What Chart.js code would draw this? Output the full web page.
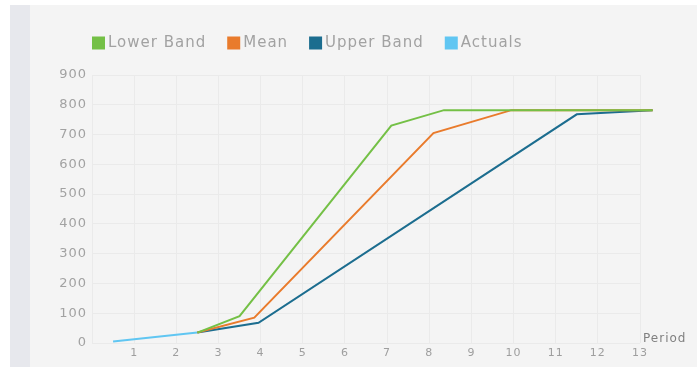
<!DOCTYPE html>
<html>
<head>
<meta charset="utf-8">
<script src="https://cdn.jsdelivr.net/npm/chart.js@4/dist/chart.umd.min.js"></script>
<style>
  html, body { margin: 0; padding: 0; background: #ffffff; }
  #wrap { position: relative; width: 697px; height: 367px; overflow: hidden; }
  #panel { position: absolute; left: 10px; top: 5px; right: 0; bottom: 0; background: #f4f4f4; }
  #strip { position: absolute; left: 10px; top: 5px; width: 20px; bottom: 0; background: #e7e8ed; }
  canvas { position: absolute; left: 0; top: 0; }
</style>
</head>
<body>
<div id="wrap">
  <div id="panel"></div>
  <div id="strip"></div>
  <canvas id="chart" width="697" height="367"></canvas>
</div>
<script>
// Series names and colours
const seriesNames = ['Lower Band', 'Mean', 'Upper Band', 'Actuals'];
const seriesColors = ['#74c046', '#e97b2c', '#1c6d8f', '#60c6f2'];

// Period (x) and value (y) for each series
const lowerX = [2.5, 3.5, 7.1, 8.35, 13.3];
const lowerY = [35, 90, 730, 782, 782];

const meanX = [2.5, 3.85, 8.1, 9.95, 13.3];
const meanY = [35, 85, 705, 782, 782];

const upperX = [2.5, 3.95, 11.5, 13.3];
const upperY = [35, 68, 768, 782];

const actualX = [0.5, 2.5];
const actualY = [5, 35];

// Axis ticks
const periodTicks = [0, 1, 2, 3, 4, 5, 6, 7, 8, 9, 10, 11, 12, 13];
const valueTicks = [0, 100, 200, 300, 400, 500, 600, 700, 800, 900];

const toPoints = (xs, ys) => xs.map((x, i) => ({ x: x, y: ys[i] }));

const FONT = '"DejaVu Sans", sans-serif';

// Legend along the top, drawn from the dataset labels and colours
const topLegend = {
  id: 'topLegend',
  afterDraw(chart) {
    const ctx = chart.ctx;
    ctx.save();
    ctx.font = '15px ' + FONT;
    ctx.textBaseline = 'middle';
    ctx.textAlign = 'left';
    let x = chart.chartArea.left;
    const y = 43;
    chart.data.datasets.forEach(ds => {
      ctx.fillStyle = ds.borderColor;
      ctx.fillRect(x, y - 6.5, 13, 13);
      x += 16;
      ctx.fillStyle = '#a2a2a2';
      ctx.fillText(ds.label, x, y + 0.5);
      x += ctx.measureText(ds.label).width + 21;
    });
    ctx.restore();
  }
};

// Axis caption to the right of the last period tick
const periodCaption = {
  id: 'periodCaption',
  afterDraw(chart) {
    const ctx = chart.ctx;
    const area = chart.chartArea;
    ctx.save();
    ctx.font = '12px ' + FONT;
    ctx.fillStyle = '#808080';
    ctx.textBaseline = 'middle';
    ctx.textAlign = 'left';
    ctx.fillText('Period', area.right + 3, area.bottom - 4);
    ctx.restore();
  }
};

// Slightly spaced lettering for all text
const spacing = {
  id: 'spacing',
  beforeDraw(chart) {
    chart.ctx.letterSpacing = '1px';
  }
};

const datasets = [
  { data: toPoints(lowerX, lowerY) },
  { data: toPoints(meanX, meanY) },
  { data: toPoints(upperX, upperY) },
  { data: toPoints(actualX, actualY) }
].map((ds, i) => Object.assign(ds, {
  label: seriesNames[i],
  borderColor: seriesColors[i],
  backgroundColor: seriesColors[i],
  borderWidth: 2,
  pointRadius: 0,
  pointHoverRadius: 0,
  tension: 0,
  fill: false,
  clip: false
}));

new Chart(document.getElementById('chart'), {
  type: 'line',
  data: { datasets: datasets },
  options: {
    responsive: false,
    animation: false,
    devicePixelRatio: 1,
    layout: { padding: { left: 28, right: 57, top: 75, bottom: 0 } },
    plugins: {
      legend: { display: false },
      tooltip: { enabled: false }
    },
    scales: {
      x: {
        type: 'linear',
        min: periodTicks[0],
        max: periodTicks[periodTicks.length - 1],
        afterBuildTicks: s => { s.ticks = periodTicks.map(v => ({ value: v })); },
        afterFit: s => { s.height = 24; },
        grid: { color: '#eaeaea', drawTicks: false, lineWidth: 1 },
        border: { display: false },
        ticks: {
          padding: 4,
          color: '#9e9e9e',
          font: { family: FONT, size: 11 },
          callback: v => (v === 0 ? '' : String(v))
        }
      },
      y: {
        min: valueTicks[0],
        max: valueTicks[valueTicks.length - 1],
        afterBuildTicks: s => { s.ticks = valueTicks.map(v => ({ value: v })); },
        afterFit: s => { s.width = 64; },
        grid: { color: '#eaeaea', drawTicks: false, lineWidth: 1 },
        border: { display: false },
        ticks: {
          padding: 5,
          color: '#a2a2a2',
          font: { family: FONT, size: 13 }
        }
      }
    }
  },
  plugins: [spacing, topLegend, periodCaption]
});
</script>
</body>
</html>
